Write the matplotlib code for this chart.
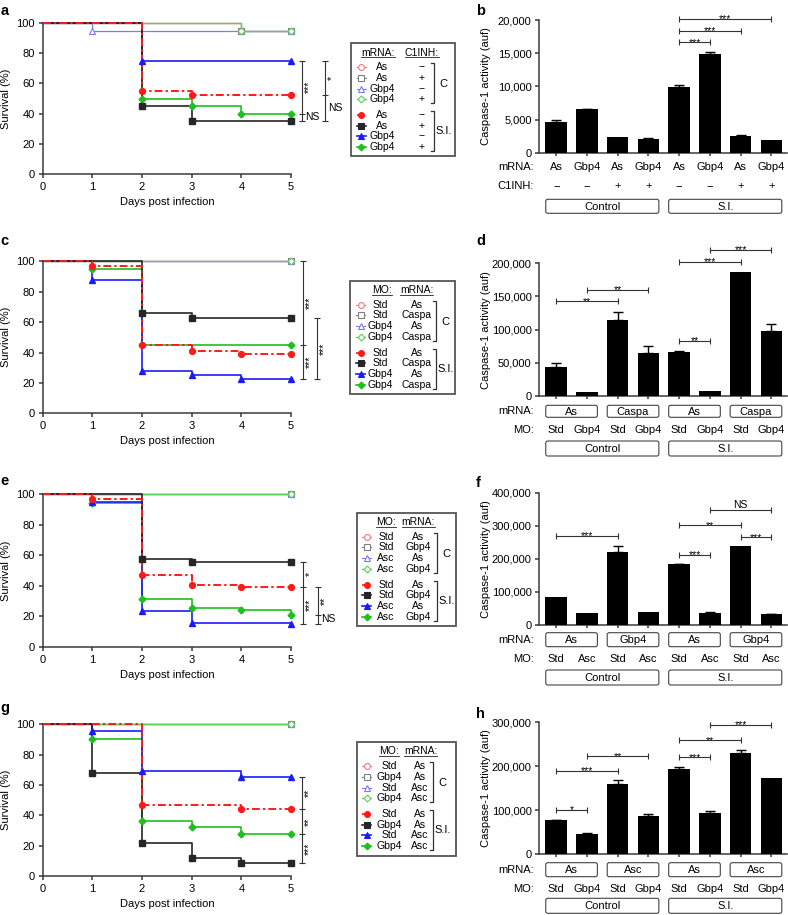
import numpy as np
import matplotlib
matplotlib.use('Agg')
import matplotlib.pyplot as plt
from matplotlib.patches import Rectangle, FancyBboxPatch
from matplotlib.ticker import FuncFormatter

plt.rcParams['font.family'] = ['Liberation Sans', 'DejaVu Sans']

# ---------------------------------------------------------------- data
days = [0, 1, 2, 3, 4, 5]

# survival series, order in each list: red, grey/black, blue, green
a_control = [[100, 100, 100, 100, 95, 95],
             [100, 100, 100, 100, 95, 95],
             [100, 95, 95, 95, 95, 95],
             [100, 100, 100, 100, 95, 95]]
a_si = [[100, 100, 55, 52.5, 52.5, 52.5],
        [100, 100, 45, 35, 35, 35],
        [100, 100, 75, 75, 75, 75],
        [100, 100, 50, 45, 40, 40]]
a_headers = ['mRNA:', 'C1INH:']
a_col1 = ['As', 'As', 'Gbp4', 'Gbp4']
a_col2 = ['\u2212', '+', '\u2212', '+']
a_bracket_vals = [[75, 40, 35], [75, 52.5, 35]]
a_bracket_labels = [['***', 'NS'], ['*', 'NS']]

c_control = [[100] * 6, [100] * 6, [100] * 6, [100] * 6]
c_si = [[100, 97, 45, 40.8, 39, 39],
        [100, 100, 66, 62.5, 62.5, 62.5],
        [100, 88, 28, 25, 22.5, 22.5],
        [100, 95, 45, 45, 45, 45]]
c_headers = ['MO:', 'mRNA:']
c_col1 = ['Std', 'Std', 'Gbp4', 'Gbp4']
c_col2 = ['As', 'Caspa', 'As', 'Caspa']
c_bracket_vals = [[100, 45, 22.5], [62.5, 22.5]]
c_bracket_labels = [['***', '***'], ['***']]

e_control = [[100] * 6, [100] * 6, [100] * 6, [100] * 6]
e_si = [[100, 97, 47, 40.5, 39.5, 39.5],
        [100, 100, 57.5, 55.5, 55.5, 55.5],
        [100, 95, 23.5, 16, 16, 15],
        [100, 94, 31.5, 25.5, 24.5, 21]]
e_headers = ['MO:', 'mRNA:']
e_col1 = ['Std', 'Std', 'Asc', 'Asc']
e_col2 = ['As', 'Gbp4', 'As', 'Gbp4']
e_bracket_vals = [[55.5, 39.5, 15], [39.5, 21, 15]]
e_bracket_labels = [['*', '***'], ['**', 'NS']]

g_control = [[100] * 6, [100] * 6, [100] * 6, [100] * 6]
g_si = [[100, 100, 47, 47, 44, 44],
        [100, 68, 21.5, 12, 8.5, 8.5],
        [100, 95.5, 69.5, 69.5, 65, 65],
        [100, 90, 36.5, 32, 27.5, 27.5]]
g_headers = ['MO:', 'mRNA:']
g_col1 = ['Std', 'Gbp4', 'Std', 'Gbp4']
g_col2 = ['As', 'As', 'Asc', 'Asc']
g_bracket_vals = [[65, 44, 27.5, 8.5]]
g_bracket_labels = [['**', '**', '***']]

groups = ['Control', 'S.I.']

b_values = [4600, 6550, 2300, 2100, 9950, 14950, 2500, 1900]
b_errors = [330, 80, 0, 50, 250, 200, 150, 0]
b_mrna = ['As', 'Gbp4', 'As', 'Gbp4', 'As', 'Gbp4', 'As', 'Gbp4']
b_c1inh = ['\u2212', '\u2212', '+', '+', '\u2212', '\u2212', '+', '+']
b_sig = [(4, 5, 16640, '***'), (4, 6, 18340, '***'), (4, 7, 20150, '***')]

d_values = [44200, 5500, 114500, 64800, 66300, 7500, 186400, 98500]
d_errors = [5000, 0, 12500, 10000, 1000, 0, 0, 10500]
d_mrna = ['As', 'Caspa', 'As', 'Caspa']
d_mo = ['Std', 'Gbp4', 'Std', 'Gbp4', 'Std', 'Gbp4', 'Std', 'Gbp4']
d_sig = [(0, 2, 142700, '**'), (1, 3, 160300, '**'), (4, 5, 83400, '**'),
         (4, 6, 202000, '***'), (5, 7, 220600, '***')]

f_values = [85600, 37300, 220600, 40300, 184400, 36300, 237800, 32200]
f_errors = [0, 0, 19000, 0, 1000, 2000, 0, 2000]
f_mrna = ['As', 'Gbp4', 'As', 'Gbp4']
f_mo = ['Std', 'Asc', 'Std', 'Asc', 'Std', 'Asc', 'Std', 'Asc']
f_sig = [(0, 2, 270000, '***'), (4, 5, 211600, '***'), (4, 6, 301300, '**'),
         (6, 7, 265000, '***'), (5, 7, 347600, 'NS')]

h_values = [77500, 46300, 160300, 87300, 192900, 92700, 230900, 172400]
h_errors = [1000, 1500, 8000, 4500, 4500, 4500, 5500, 0]
h_mrna = ['As', 'Asc', 'As', 'Asc']
h_mo = ['Std', 'Gbp4', 'Std', 'Gbp4', 'Std', 'Gbp4', 'Std', 'Gbp4']
h_sig = [(0, 1, 100300, '*'), (0, 2, 189900, '***'), (1, 3, 222500, '**'),
         (4, 5, 220300, '***'), (4, 6, 259000, '**'), (5, 7, 294700, '***')]

# ---------------------------------------------------------------- style
W, H = 788, 915
C_COL = ['#f47a7a', '#808080', '#7b7bff', '#5ecf5e']
S_COL = ['#ff1a1a', '#262626', '#1a1aff', '#1fbf1f']
MK = ['o', 's', '^', 'D']
MS = [4.2, 4.0, 4.6, 3.5]
AX_COL = '#3a3a3a'
STAR_FS = 7.6

fig = plt.figure(figsize=(W / 100, H / 100), dpi=100)
ov = fig.add_axes([0, 0, 1, 1], zorder=10)
ov.set_xlim(0, W)
ov.set_ylim(H, 0)
ov.axis('off')


def add_ax(l, t, r, b):
    return fig.add_axes([l / W, 1 - b / H, (r - l) / W, (b - t) / H])


def marker_idx(v):
    idx = [i for i in range(1, len(v)) if v[i] != v[i - 1]]
    if len(v) - 1 not in idx:
        idx.append(len(v) - 1)
    return idx


def survival(box, control, si, bx, bvals, blabels):
    l, t, r, b = box
    ax = add_ax(l, t, r, b)
    d = np.array(days)
    for k in range(4):
        v = np.array(control[k], float)
        ax.step(d, v, where='post', color=C_COL[k], lw=0.9, zorder=2 + 0.1 * k, clip_on=False)
        idx = marker_idx(v)
        ax.plot(d[idx], v[idx], ls='none', marker=MK[k], ms=MS[k], mfc='white',
                mec=C_COL[k], mew=0.8, zorder=3, clip_on=False)
    for k in [3, 2, 1, 0]:
        v = np.array(si[k], float)
        ls = (0, (4, 1.6, 1.2, 1.6)) if k == 0 else '-'
        ax.step(d, v, where='post', color=S_COL[k], lw=1.4 if k == 0 else 1.2,
                ls=ls, zorder=4, clip_on=False)
        idx = marker_idx(v)
        ax.plot(d[idx], v[idx], ls='none', marker=MK[k], ms=MS[k], color=S_COL[k],
                mec=S_COL[k], zorder=5, clip_on=False)
    ax.set_xlim(0, 5)
    ax.set_ylim(0, 100)
    ax.set_xticks(days)
    ax.set_yticks(range(0, 101, 20))
    for s in ['top', 'right']:
        ax.spines[s].set_visible(False)
    for s in ['left', 'bottom']:
        ax.spines[s].set_color(AX_COL)
        ax.spines[s].set_linewidth(1.1)
    ax.tick_params(length=3, width=1.1, color=AX_COL, labelsize=8, pad=2.5)
    ax.patch.set_visible(False)
    for x, vals, labs in zip(bx, bvals, blabels):
        ax.plot([x] * len(vals), vals, color='#333333', lw=0.8, marker='_', ms=4.5,
                mew=0.8, clip_on=False)
        for i, lab in enumerate(labs):
            ym = (vals[i] + vals[i + 1]) / 2
            if lab == 'NS':
                ax.annotate(lab, (x, ym), xytext=(3, 0), textcoords='offset pixels',
                            ha='left', va='center', fontsize=7.5, annotation_clip=False)
            else:
                ax.annotate(lab, (x, ym), xytext=(7, 0), textcoords='offset pixels',
                            ha='center', va='center', rotation=90, fontsize=STAR_FS,
                            annotation_clip=False)
    ov.text(6.5, (t + b) / 2, 'Survival (%)', rotation=90, ha='center', va='center', fontsize=8)
    ov.text((l + r) / 2, b + 28, 'Days post infection', ha='center', va='center', fontsize=8)
    return ax


LEG_ROWS = [23.8, 34.7, 45.7, 56.4, 71.8, 82.6, 93.4, 104.2]


def legend(box, hx, mx, c1x, c2x, brx, headers, col1, col2):
    l, t, r, b = box
    ov.add_patch(Rectangle((l, t), r - l, b - t, fill=False, ec='#555555', lw=1.3))
    renderer = fig.canvas.get_renderer()
    for x, h in zip(hx, headers):
        tx = ov.text(x, t + 9.5, h, ha='center', va='center', fontsize=7.5)
        bb = tx.get_window_extent(renderer).transformed(ov.transData.inverted())
        ov.plot([bb.x0, bb.x1], [t + 14, t + 14], color='#222222', lw=0.6)
    for k in range(8):
        y = t + LEG_ROWS[k]
        ctrl = k < 4
        kk = k % 4
        col = C_COL[kk] if ctrl else S_COL[kk]
        ls = (0, (2.5, 1, 1, 1)) if (not ctrl and kk == 0) else '-'
        ov.plot([mx - 4.5, mx + 4.5], [y, y], color=col, lw=0.8 if ctrl else 1.2, ls=ls)
        ov.plot([mx], [y], marker=MK[kk], ms=MS[kk], mfc='white' if ctrl else col,
                mec=col, mew=0.8, ls='none')
        ov.text(c1x, y, col1[kk], ha='center', va='center', fontsize=7.5)
        ov.text(c2x, y, col2[kk], ha='center', va='center', fontsize=7.5)
    for (y0, y1), lab, ty in [((t + 20, t + 60), 'C', t + 41),
                              ((t + 68, t + 108), 'S.I.', t + 88)]:
        ov.plot([brx - 3, brx, brx, brx - 3], [y0, y0, y1, y1], color='#333333', lw=0.9)
        ov.text(brx + 9.5, ty, lab, ha='center', va='center', fontsize=8)


def xpx(ax, xv):
    return ov.transData.inverted().transform(ax.transData.transform((xv, 0)))[0]


def bar_panel(box, values, errors, ymax, ystep, sig):
    l, t, r, b = box
    ax = add_ax(l, t, r, b)
    x = np.arange(len(values))
    ax.bar(x, values, width=0.7, color='black', zorder=3)
    err = np.array(errors, float)
    m = err > 0
    ax.errorbar(x[m], np.array(values)[m], yerr=[np.zeros(m.sum()), err[m]], fmt='none',
                ecolor='black', elinewidth=1, capsize=3.5, capthick=1, zorder=2)
    ax.set_xlim(-0.55, 7.5)
    ax.set_ylim(0, ymax)
    ax.set_yticks(np.arange(0, ymax + 1, ystep))
    ax.yaxis.set_major_formatter(FuncFormatter(lambda v, p: f'{int(v):,}'))
    ax.set_xticks(x)
    ax.set_xticklabels([])
    for s in ['top', 'right']:
        ax.spines[s].set_visible(False)
    for s in ['left', 'bottom']:
        ax.spines[s].set_color(AX_COL)
        ax.spines[s].set_linewidth(1.1)
    ax.tick_params(length=3, width=1.1, color=AX_COL, labelsize=8, pad=2.5)
    ax.tick_params(axis='x', length=2.5)
    ax.patch.set_visible(False)
    for i, j, y, lab in sig:
        ax.plot([i, j], [y, y], color='#333333', lw=0.8, marker='|', ms=4, mew=0.8,
                clip_on=False, zorder=4)
        off = 2.5 if lab == 'NS' else -3.3
        ax.annotate(lab, ((i + j) / 2, y), xytext=(0, off), textcoords='offset pixels',
                    ha='center', va='baseline', fontsize=7.5 if lab == 'NS' else STAR_FS,
                    annotation_clip=False)
    ov.text(486, (t + b) / 2, 'Caspase-1 activity (auf)', rotation=90, ha='center',
            va='center', fontsize=8)
    return ax


def row_text(ax, y, labels, head):
    ov.text(534, y, head, ha='right', va='center', fontsize=8)
    for i, lab in enumerate(labels):
        ov.text(xpx(ax, i), y, lab, ha='center', va='center', fontsize=8)


def row_boxes(ax, top, bot, labels, per, head=None):
    if head:
        ov.text(534, (top + bot) / 2, head, ha='right', va='center', fontsize=8)
    for gi, lab in enumerate(labels):
        x0 = xpx(ax, gi * per - 0.34)
        x1 = xpx(ax, gi * per + per - 1 + 0.34)
        ov.add_patch(FancyBboxPatch((x0, top), x1 - x0, bot - top,
                                    boxstyle='round,pad=0,rounding_size=2',
                                    fc='white', ec='#444444', lw=0.8))
        ov.text((x0 + x1) / 2, (top + bot) / 2 + 0.5, lab, ha='center', va='center', fontsize=8)


# ---------------------------------------------------------------- panels
survival((42.7, 23, 291, 174), a_control, a_si, [5.215, 5.685], a_bracket_vals, a_bracket_labels)
legend((351, 43, 455, 156), [378, 421.7], 361.5, 382, 421.7, 434, a_headers, a_col1, a_col2)

survival((42.7, 261.3, 291, 413.3), c_control, c_si, [5.236, 5.517], c_bracket_vals, c_bracket_labels)
legend((350, 280.7, 455, 393.7), [381.7, 416.7], 361, 380, 416.7, 436, c_headers, c_col1, c_col2)

survival((42.7, 494, 291, 647), e_control, e_si, [5.248, 5.55], e_bracket_vals, e_bracket_labels)
legend((356.7, 512.7, 456, 626), [386, 418.3], 367, 386, 418.3, 436.7, e_headers, e_col1, e_col2)

survival((42.7, 724.3, 291, 876), g_control, g_si, [5.215], g_bracket_vals, g_bracket_labels)
legend((357, 742, 456, 855.7), [389, 420.7], 367, 389.3, 420, 433.3, g_headers, g_col1, g_col2)

axb = bar_panel((539.3, 20, 786.7, 152.7), b_values, b_errors, 20000, 5000, b_sig)
row_text(axb, 167, b_mrna, 'mRNA:')
row_text(axb, 186, b_c1inh, 'C1INH:')
row_boxes(axb, 199.3, 213.3, groups, 4)

axd = bar_panel((539.3, 263.3, 786.7, 396), d_values, d_errors, 200000, 50000, d_sig)
row_boxes(axd, 405.3, 417.3, d_mrna, 2, 'mRNA:')
row_text(axd, 430, d_mo, 'MO:')
row_boxes(axd, 441, 456, groups, 4)

axf = bar_panel((539.3, 492.7, 786.7, 625), f_values, f_errors, 400000, 100000, f_sig)
row_boxes(axf, 632.7, 646.7, f_mrna, 2, 'mRNA:')
row_text(axf, 659.3, f_mo, 'MO:')
row_boxes(axf, 670, 685, groups, 4)

axh = bar_panel((539.3, 722.3, 786.7, 854), h_values, h_errors, 300000, 100000, h_sig)
row_boxes(axh, 862.7, 876.7, h_mrna, 2, 'mRNA:')
row_text(axh, 889.3, h_mo, 'MO:')
row_boxes(axh, 898.3, 913.3, groups, 4)

for lab, x, y in [('a', 0.5, 15), ('b', 476, 15), ('c', 0.5, 245), ('d', 476, 245),
                  ('e', 0.5, 485), ('f', 476, 486.7), ('g', 0.5, 712), ('h', 476, 718)]:
    ov.text(x, y, lab, fontsize=10.5, fontweight='bold', ha='left', va='baseline')

fig.savefig('out.png', dpi=100)
